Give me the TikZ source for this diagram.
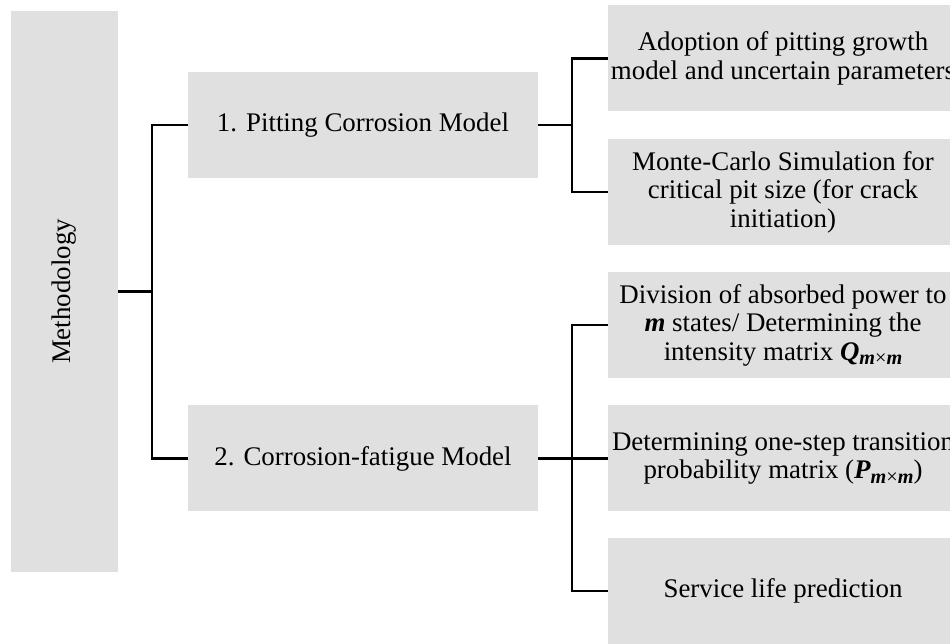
\documentclass[tikz,border=0pt]{standalone}
\usepackage{fontspec}
\setmainfont{Liberation Serif}
\usetikzlibrary{positioning,calc}
\definecolor{boxgray}{RGB}{224,224,224}
\newcommand{\bim}[1]{\textbf{\textit{#1}}}
\newcommand{\msub}[1]{\raisebox{-0.35ex}{\fontsize{11.5}{11.5}\selectfont #1}}

\begin{document}
\begin{tikzpicture}[
    graybox/.style={fill=boxgray, draw=none, minimum width=7cm, minimum height=2.12cm,
        align=center, font=\fontsize{15.3}{16.2}\selectfont, inner sep=0pt},
    link/.style={line width=1.4pt}
]
    % Frame
    \useasboundingbox (0,0) rectangle (19,12.88);
    \clip (0,0) rectangle (19,12.88);

    % Root
    \node[graybox, minimum width=11.22cm, minimum height=2.14cm, rotate=90] (meth) at (1.29,7.05) {Methodology};

    % Models
    \node[graybox] (pit) at (7.26,10.38) {1. Pitting Corrosion Model};
    \node[graybox] (fat) at (7.26,3.71) {2. Corrosion-fatigue Model};

    % Steps of the pitting model
    \node[graybox] (adopt) at (15.66,11.71) {Adoption of pitting growth\\model and uncertain parameters};
    \node[graybox] (monte) at (15.66,9.04) {Monte-Carlo Simulation for\\critical pit size (for crack\\initiation)};

    % Steps of the corrosion-fatigue model
    \node[graybox] (divide) at (15.66,6.38) {Division of absorbed power to\\\bim{m} states/ Determining the\\intensity matrix \bim{Q}\msub{\bim{m}×\bim{m}}};
    \node[graybox] (trans) at (15.66,3.71) {Determining one-step transition\\probability matrix (\bim{P}\msub{\bim{m}×\bim{m}})};
    \node[graybox] (life) at (15.66,1.06) {Service life prediction};

    % Forks
    \coordinate (lfork) at (3.04,0);
    \coordinate (rfork) at (11.44,0);

    % Connectors
    \draw[link] (meth.south) -- (meth.south -| lfork);
    \draw[link] (pit.west) -| (lfork |- fat.west) -- (fat.west);
    \draw[link] (pit.east) -- (pit.east -| rfork);
    \draw[link] (adopt.west) -| (rfork |- monte.west) -- (monte.west);
    \draw[link] (fat.east) -- (fat.east -| rfork);
    \draw[link] (divide.west) -| (rfork |- life.west) -- (life.west);
    \draw[link] (rfork |- trans.west) -- (trans.west);
\end{tikzpicture}
\end{document}
